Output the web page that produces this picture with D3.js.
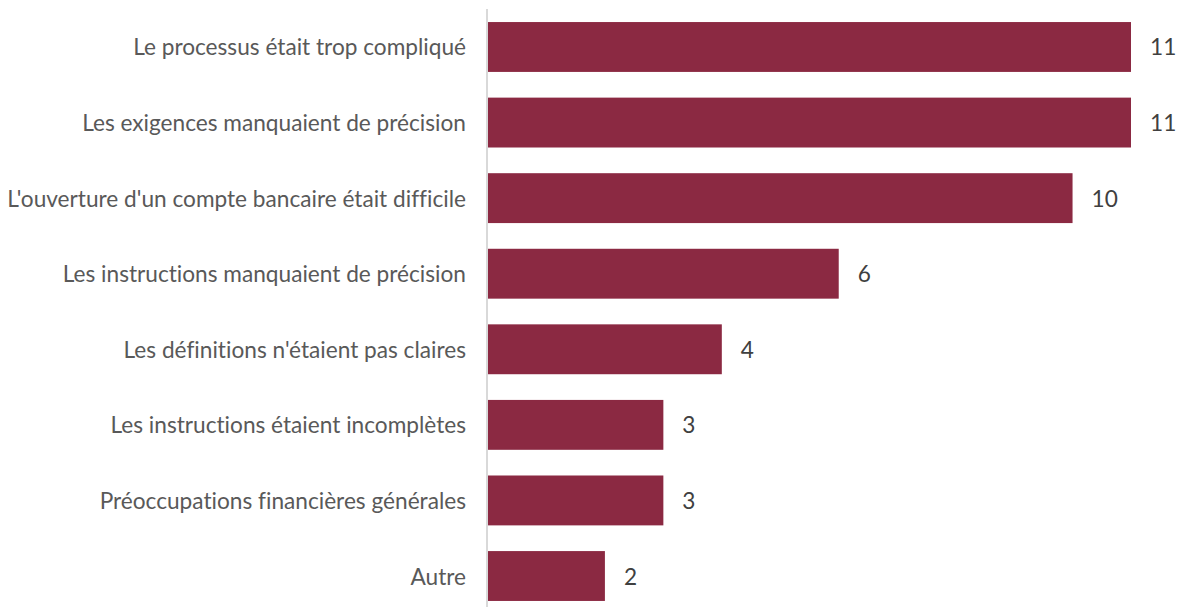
<!DOCTYPE html>
<html><head><meta charset="utf-8">
<script src="https://cdn.jsdelivr.net/npm/d3@7"></script>
<style>body{margin:0;background:#fff}svg{display:block}text{font-variant-ligatures:none;font-feature-settings:"liga" 0,"clig" 0}</style>
</head><body>
<svg id="c" width="1179" height="607"></svg>
<script>
const categories = [
  "Le processus était trop compliqué",
  "Les exigences manquaient de précision",
  "L'ouverture d'un compte bancaire était difficile",
  "Les instructions manquaient de précision",
  "Les définitions n'étaient pas claires",
  "Les instructions étaient incomplètes",
  "Préoccupations financières générales",
  "Autre"
];
const values = [11, 11, 10, 6, 4, 3, 3, 2];

const svg = d3.select("#c");
const font = "Lato, 'Open Sans', sans-serif";
const x = d3.scaleLinear().domain([0, 11]).range([488, 1131]);
const y = d3.scaleBand().domain(categories).range([9.2, 613.8]).paddingInner(0.34).paddingOuter(0.17);

svg.append("line").attr("x1", 487).attr("x2", 487).attr("y1", 9).attr("y2", 607)
  .attr("stroke", "#d9d9d9").attr("stroke-width", 2);

svg.selectAll("rect.bar").data(values).join("rect").attr("class", "bar")
  .attr("x", x(0)).attr("y", (d, i) => y(categories[i]))
  .attr("width", d => x(d) - x(0)).attr("height", y.bandwidth())
  .attr("fill", "#8B2942");

const labels = svg.selectAll("text.cat").data(categories).join("text").attr("class", "cat")
  .attr("x", 466).attr("y", d => y(d) + y.bandwidth() / 2)
  .attr("text-anchor", "end").attr("dominant-baseline", "central")
  .attr("fill", "#595959").style("font-family", font).style("font-size", "18px")
  .text(d => d);

const longest = labels.nodes()[2];
const w = longest.getComputedTextLength();
const fs = 18 * 459 / w;
labels.style("font-size", fs + "px");

svg.selectAll("text.val").data(values).join("text").attr("class", "val")
  .attr("x", d => x(d) + 19).attr("y", (d, i) => y(categories[i]) + y.bandwidth() / 2)
  .attr("dominant-baseline", "central")
  .attr("fill", "#404040").style("font-family", font).style("font-size", fs + "px")
  .text(d => d);
</script>
</body></html>
